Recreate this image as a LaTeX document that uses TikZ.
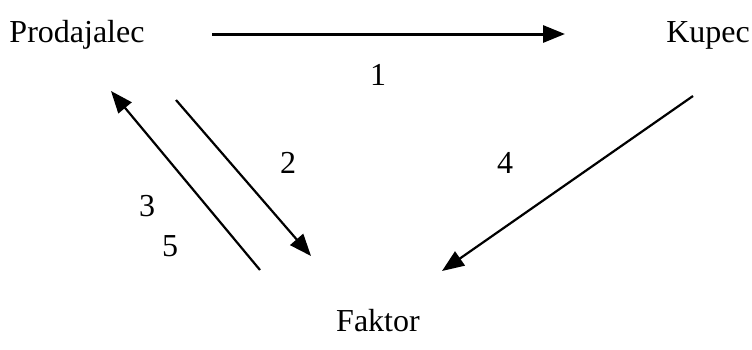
\documentclass[tikz,border=0pt]{standalone}
\usepackage{fontspec}
\setmainfont{Liberation Serif}
\usetikzlibrary{arrows.meta}
\begin{document}
\begin{tikzpicture}[x=1pt, y=-1pt,
    lbl/.style={inner sep=0pt, anchor=base, font=\fontsize{32}{38}\selectfont},
    arr/.style={line width=2.2pt, -{Triangle[length=22pt, width=17pt]}}]
    \useasboundingbox (0,0) rectangle (752,349);

    % udelezenci
    \node[lbl] (prodajalec) at (77,42) {Prodajalec};
    \node[lbl] (kupec) at (708,42) {Kupec};
    \node[lbl] (faktor) at (378,331) {Faktor};

    % stevilke korakov
    \node[lbl] (k1) at (378,85) {1};
    \node[lbl] (k2) at (288,173) {2};
    \node[lbl] (k3) at (147,216) {3};
    \node[lbl] (k5) at (170,256) {5};
    \node[lbl] (k4) at (505,173) {4};

    % konci puscic
    \coordinate (a1) at (212,34);  \coordinate (b1) at (565,34);
    \coordinate (a2) at (176,100); \coordinate (b2) at (311,256);
    \coordinate (a3) at (260,270); \coordinate (b3) at (111,91);
    \coordinate (a4) at (693,96);  \coordinate (b4) at (442,271);

    \draw[arr, line width=3pt] (a1) -- (b1);
    \draw[arr] (a2) -- (b2);
    \draw[arr] (a3) -- (b3);
    \draw[arr] (a4) -- (b4);
\end{tikzpicture}
\end{document}
